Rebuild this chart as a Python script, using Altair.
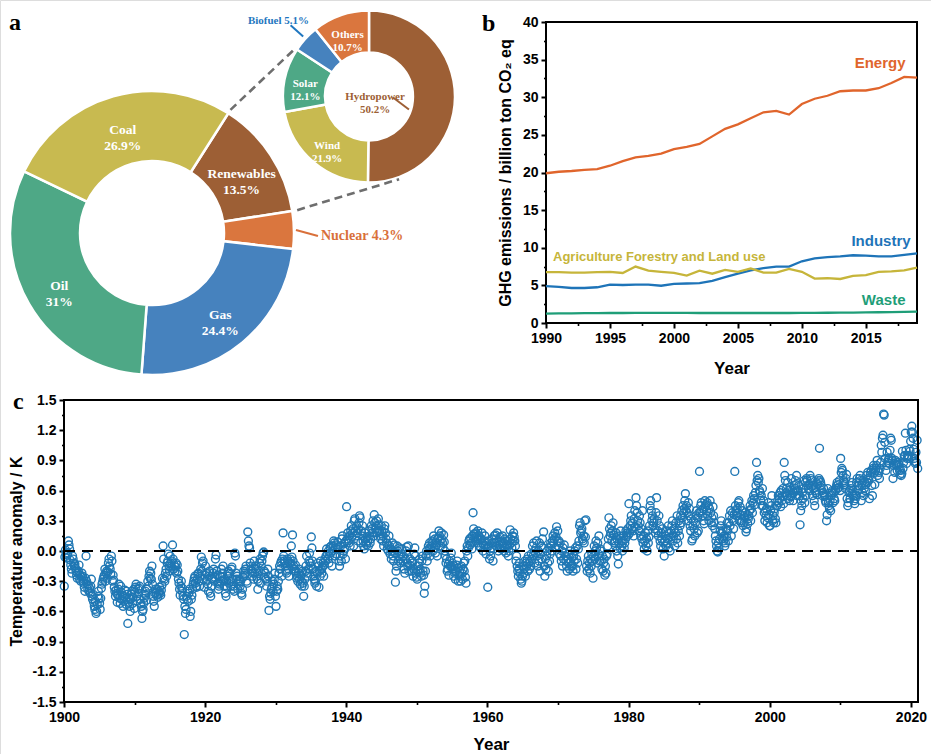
import numpy as np
import pandas as pd
import altair as alt

# ============================== DATA ==================================
# Panel a: energy mix and renewables breakdown (%)
ENERGY_CATS = ["Renewables", "Nuclear", "Gas", "Oil", "Coal"]
ENERGY_SHARE = [13.5, 4.3, 24.4, 31.0, 26.9]
ENERGY_PCT = ["13.5%", "4.3%", "24.4%", "31%", "26.9%"]

RENEW_CATS = ["Hydropower", "Wind", "Solar", "Biofuel", "Others"]
RENEW_SHARE = [50.2, 21.9, 12.1, 5.1, 10.7]
RENEW_PCT = ["50.2%", "21.9%", "12.1%", "5.1%", "10.7%"]

# Panel b: GHG emissions by sector (billion ton CO2 eq)
GHG_YEARS = list(range(1990, 2020))
GHG_ENERGY = [19.9, 20.1, 20.2, 20.35, 20.45, 20.9, 21.5, 22.0, 22.2, 22.5,
              23.1, 23.4, 23.8, 24.8, 25.8, 26.4, 27.2, 28.0, 28.2, 27.7,
              29.1, 29.8, 30.2, 30.8, 30.9, 30.9, 31.2, 31.9, 32.7, 32.6]
GHG_INDUSTRY = [4.9, 4.8, 4.65, 4.65, 4.75, 5.1, 5.05, 5.1, 5.1, 4.95,
                5.2, 5.25, 5.3, 5.6, 6.1, 6.55, 7.0, 7.3, 7.5, 7.5,
                8.2, 8.6, 8.75, 8.85, 9.0, 8.95, 8.85, 8.85, 9.05, 9.25]
GHG_AGRI = [6.75, 6.75, 6.7, 6.7, 6.75, 6.8, 6.65, 7.5, 6.95, 6.8,
            6.65, 6.3, 6.95, 6.55, 7.05, 6.8, 7.25, 6.7, 6.7, 7.2,
            6.8, 5.9, 5.95, 5.85, 6.25, 6.35, 6.8, 6.85, 7.0, 7.35]
GHG_WASTE = [1.25, 1.27, 1.28, 1.3, 1.32, 1.33, 1.33, 1.34, 1.35, 1.35,
             1.35, 1.34, 1.33, 1.33, 1.33, 1.33, 1.33, 1.33, 1.33, 1.33,
             1.34, 1.35, 1.36, 1.37, 1.39, 1.41, 1.43, 1.45, 1.48, 1.52]
GHG_SERIES = ["Energy", "Industry", "Agriculture Forestry and Land use", "Waste"]

# Panel c: monthly temperature anomaly (K x 100), Jan..Dec, 1900..2020
TEMP_FIRST_YEAR = 1900
TEMP_CENTI = [
    "-35 -6 1 -3 -7 -4 -2 10 6 2 -9 -14",
    "-18 -22 -5 -8 -12 -15 -13 -17 -20 -24 -27 -22",
    "-20 -14 -28 -24 -30 -26 -22 -25 -30 -32 -36 -40",
    "-27 -5 -30 -33 -38 -34 -40 -37 -42 -35 -28 -45",
    "-48 -43 -51 -55 -58 -50 -62 -60 -53 -45 -40 -47",
    "-52 -58 -47 -37 -33 -31 -28 -26 -24 -18 -30 -22",
    "-20 -27 -21 -12 -8 -15 -18 -23 -5 -10 -30 -24",
    "-29 -36 -40 -45 -39 -42 -51 -44 -38 -33 -47 -52",
    "-35 -41 -48 -44 -55 -50 -45 -39 -47 -53 -40 -43",
    "-72 -51 -47 -55 -60 -48 -43 -40 -52 -46 -38 -57",
    "-41 -36 -33 -45 -50 -38 -42 -37 -35 -48 -52 -55",
    "-67 -60 -58 -52 -47 -43 -40 -44 -49 -38 -30 -35",
    "-25 -20 -27 -22 -28 -15 -33 -45 -50 -55 -42 -38",
    "-41 -44 -38 -46 -43 -40 -36 -42 -44 -39 -34 -27",
    "5 -8 -28 -30 -22 -18 -25 -12 -10 -3 -15 -20",
    "-5 -12 -15 -10 6 -8 -18 -14 -20 -16 -12 -22",
    "-14 -20 -28 -32 -38 -44 -35 -30 -40 -37 -45 -48",
    "-83 -55 -62 -58 -45 -48 -40 -50 -42 -38 -65 -60",
    "-48 -44 -38 -33 -30 -27 -25 -32 -35 -36 -28 -23",
    "-22 -30 -35 -25 -18 -6 -20 -12 -10 -28 -36 -24",
    "-15 -22 -30 -28 -33 -40 -25 -20 -42 -45 -35 -27",
    "-28 -22 -18 -30 -26 -8 -4 -20 -24 -32 -38 -35",
    "-33 -25 -30 -18 -26 -22 -15 -30 -35 -28 -42 -45",
    "-30 -36 -25 -20 -32 -22 -30 -35 -18 -16 -28 -38",
    "-35 -40 -2 -5 -22 -28 -25 -38 -30 -33 -28 -35",
    "-30 -42 -44 -38 -26 -20 -24 -22 -18 -15 -30 -32",
    "19 10 5 3 -12 -18 -15 -20 -25 -22 -28 -10",
    "-22 -15 -18 -25 -28 -38 -30 -20 -12 -8 -32 -15",
    "-10 -5 -2 -1 -20 -26 -22 -28 -35 -30 -18 -25",
    "-59 -45 -48 -42 -38 -36 -30 -40 -33 -28 -22 -45",
    "-55 -40 -35 -38 -30 -22 -15 -18 -12 -10 -25 -8",
    "18 -5 -10 -12 -15 -20 -22 -8 -10 -18 -25 -12",
    "-8 -12 5 -6 16 -10 -15 -18 -20 -14 -22 -27",
    "-25 -30 -22 -18 -28 -33 -24 -30 -35 -20 -32 -45",
    "-35 -28 -20 -15 -5 -22 -25 -18 -10 -2 -12 -15",
    "14 3 -10 -18 -25 -28 -32 -30 -20 -35 -22 -12",
    "-15 -36 -20 -25 -10 -18 -22 -16 -12 -25 -14 -8",
    "-10 -5 2 -3 -8 0 -12 -5 4 -2 5 -15",
    "0 5 10 8 -5 3 6 -3 2 9 4 -10",
    "-15 -5 5 -10 12 15 -3 0 8 2 -8 10",
    "44 12 18 10 8 15 5 20 25 14 18 22",
    "5 30 32 20 15 25 18 10 22 28 35 33",
    "8 20 15 25 10 5 2 18 12 8 6 14",
    "10 5 20 15 8 12 25 22 18 30 15 36",
    "28 22 25 30 18 20 32 26 20 15 12 25",
    "20 10 15 5 22 25 18 12 8 2 6 0",
    "15 5 -3 2 -8 0 8 -5 -10 6 -2 -31",
    "-20 -15 5 0 -10 -5 3 -8 -12 -3 2 -6",
    "-10 -5 -18 -22 -8 0 4 -12 -15 5 -20 -14",
    "-8 -15 -20 -10 -12 -25 -18 -3 3 -5 -22 -26",
    "-28 -20 -15 -12 -8 -18 -22 -25 -10 -5 -20 -24",
    "-42 -35 -20 -5 0 -10 -3 5 2 8 -5 3",
    "5 10 8 0 15 3 12 -2 8 6 -5 12",
    "13 20 15 10 5 18 12 8 3 16 9 0",
    "-5 -12 -8 -20 -18 -13 -24 -10 -15 -7 -2 -16",
    "-12 -18 -25 -15 -22 -28 -20 -14 -10 -17 -30 -24",
    "-20 -25 -30 -15 -22 -28 -18 -12 -20 -10 -26 -32",
    "0 5 -5 3 10 12 6 13 8 2 15 38",
    "22 17 13 10 18 14 12 20 8 15 5 11",
    "3 12 18 8 0 6 10 15 5 -3 9 4",
    "-36 10 5 -8 0 -5 3 12 8 -10 2 15",
    "8 16 12 5 18 10 0 6 3 14 9 2",
    "10 15 5 8 0 12 3 -2 6 10 4 -5",
    "0 6 21 12 8 3 15 10 18 14 10 5",
    "-10 -5 -15 -20 -25 -18 -12 -22 -28 -32 -30 -25",
    "-15 -22 -18 -10 -25 -12 -15 -8 -20 -5 -12 -18",
    "-10 -15 -3 -8 5 -5 8 0 -12 -2 3 10",
    "-5 -15 0 -10 8 -20 -3 5 -8 12 3 19",
    "-15 -25 -8 -18 -5 0 -12 -20 3 -10 -3 8",
    "5 0 10 15 8 12 18 3 14 24 10 20",
    "5 10 -3 8 -5 -10 0 -15 3 -8 6 -2",
    "-5 -10 -15 -20 -8 -12 -3 -18 0 -10 -15 -6",
    "-15 -20 -5 -10 0 3 -18 -8 5 -12 2 10",
    "25 28 18 20 22 12 10 15 8 30 14 31",
    "-15 -20 -10 -5 -18 -12 -22 -8 -15 -3 -10 -27",
    "-5 5 -8 0 10 3 -12 8 -3 15 -10 2",
    "0 -10 -18 -5 -20 -12 -8 -24 -15 -22 -5 -3",
    "5 12 33 22 15 18 25 10 20 28 16 8",
    "10 5 18 0 12 -5 -13 8 15 3 20 10",
    "5 0 10 15 3 8 12 20 14 18 22 16",
    "47 18 25 30 35 22 28 20 15 32 40 24",
    "53 45 38 30 25 20 35 28 15 22 12 40",
    "8 15 2 10 18 5 12 0 20 8 14 25",
    "45 50 40 30 35 25 28 32 22 18 38 53",
    "30 20 15 35 25 10 5 18 12 22 2 8",
    "-5 10 15 5 20 8 12 25 3 18 0 14",
    "20 25 30 10 15 22 5 18 28 12 35 8",
    "20 30 15 25 35 28 40 33 45 38 42 50",
    "57 40 45 38 30 48 35 42 25 20 32 10",
    "12 25 30 22 15 28 35 40 18 33 20 38",
    "79 38 45 48 40 35 42 30 27 50 44 46",
    "40 48 35 45 30 42 50 38 28 33 25 44",
    "35 28 22 15 10 5 0 -1 8 3 12 20",
    "25 30 18 12 20 10 15 5 8 22 14 28",
    "20 10 28 35 25 40 15 32 38 30 22 36",
    "79 45 40 35 42 38 48 50 30 44 36 28",
    "30 40 25 35 28 33 38 19 22 36 27 32",
    "35 40 45 30 42 50 38 48 55 52 46 58",
    "65 88 70 75 68 72 60 58 50 55 45 62",
    "45 50 38 30 40 35 42 28 33 48 36 25",
    "25 40 45 55 30 35 28 38 42 32 28 45",
    "45 50 55 48 52 58 44 60 50 54 62 47",
    "88 75 70 58 62 55 68 52 60 50 63 54",
    "72 55 60 50 58 65 62 70 66 75 55 60",
    "60 65 55 26 40 50 45 58 52 62 70 48",
    "68 55 72 70 65 62 66 60 75 72 70 64",
    "55 65 62 50 45 60 58 68 56 66 70 72",
    "102 70 68 65 60 55 58 62 56 54 50 48",
    "30 36 62 48 45 42 50 40 55 58 60 48",
    "58 52 50 60 62 65 68 62 66 63 70 60",
    "92 78 82 80 75 70 68 66 62 72 76 52",
    "45 48 58 60 52 62 65 68 56 60 55 50",
    "47 52 55 68 72 65 60 62 72 75 70 50",
    "65 58 70 55 62 68 60 66 75 68 78 72",
    "70 52 75 78 80 65 55 82 85 78 66 80",
    "82 85 90 75 80 78 72 82 88 105 98 112",
    "115 136 135 108 92 80 85 98 88 90 92 87",
    "100 112 110 92 90 72 85 87 78 90 86 88",
    "80 85 88 86 80 76 80 75 77 99 82 88",
    "94 95 117 100 87 92 95 94 92 101 99 109",
    "118 124 118 112 101 92 89 87 98 88 110 82",
]

# ============================== STYLE / LAYOUT ===========================
W, H = 931, 754
SANS = "Liberation Sans"
SERIF = "Liberation Serif"

PIE_COLORS = ["#9D5F35", "#DA763E", "#4682BE", "#4EA886", "#C8BA50"]      # energy
REN_COLORS = ["#9D5F35", "#C8BA50", "#4EA886", "#4682BE", "#DA763E"]      # renewables
GHG_COLORS = ["#E0652C", "#1E74B8", "#C6B53A", "#1F9E78"]
PT_BLUE = "#1f77b4"

BIG_C, BIG_R0, BIG_R1, BIG_START = (152.0, 233.0), 72, 142, 32.5
SM_C, SM_R0, SM_R1, SM_START = (369.0, 96.5), 44, 86, 0.0

# panel b plot rectangle
B_L, B_R, B_T, B_B = 546, 917, 22, 323
# panel c plot rectangle
C_L, C_R, C_T, C_B = 64, 918, 400, 702


def polar(c, r, deg):
    a = np.deg2rad(deg)
    return c[0] + r * np.sin(a), c[1] - r * np.cos(a)


def angles(shares, start):
    s = np.array(shares, dtype=float)
    tot = s.sum()
    before = np.concatenate([[0], np.cumsum(s)[:-1]])
    a0 = start + 360 * before / tot
    a1 = start + 360 * (before + s) / tot
    return a0, a1, (a0 + a1) / 2


# ============================== PANEL A ==================================
big = pd.DataFrame({"cat": ENERGY_CATS, "share": ENERGY_SHARE, "idx": range(5)})
big["inner"] = [c + "\n" + p if c != "Nuclear" else "" for c, p in zip(ENERGY_CATS, ENERGY_PCT)]

sm = pd.DataFrame({"cat": RENEW_CATS, "share": RENEW_SHARE, "idx": range(5)})
sm["inner"] = [c + "\n" + p if c in ("Wind", "Solar", "Others") else ""
               for c, p in zip(RENEW_CATS, RENEW_PCT)]

th_big = alt.Theta("share:Q", stack=True,
                   scale=alt.Scale(range=[np.deg2rad(BIG_START), np.deg2rad(BIG_START) + 2 * np.pi]))
th_sm = alt.Theta("share:Q", stack=True,
                  scale=alt.Scale(range=[np.deg2rad(SM_START), np.deg2rad(SM_START) + 2 * np.pi]))

big_arcs = alt.Chart(big).mark_arc(radius=BIG_R1, radius2=BIG_R0, stroke="white", strokeWidth=2.5).encode(
    theta=th_big, order=alt.Order("idx:Q"),
    color=alt.Color("cat:N", scale=alt.Scale(domain=ENERGY_CATS, range=PIE_COLORS), legend=None),
    x=alt.value(BIG_C[0]), y=alt.value(BIG_C[1]))
big_txt = alt.Chart(big).mark_text(radius=(BIG_R0 + BIG_R1) / 2, font=SERIF, fontWeight="bold",
                                   fontSize=13.5, color="white", lineBreak="\n", lineHeight=16).encode(
    theta=th_big, order=alt.Order("idx:Q"), detail="cat:N", text="inner:N",
    x=alt.value(BIG_C[0]), y=alt.value(BIG_C[1]))
L_big = alt.layer(big_arcs, big_txt)

sm_arcs = alt.Chart(sm).mark_arc(radius=SM_R1, radius2=SM_R0, stroke="white", strokeWidth=2.5).encode(
    theta=th_sm, order=alt.Order("idx:Q"),
    color=alt.Color("cat:N", scale=alt.Scale(domain=RENEW_CATS, range=REN_COLORS), legend=None),
    x=alt.value(SM_C[0]), y=alt.value(SM_C[1]))
sm_txt = alt.Chart(sm).mark_text(radius=(SM_R0 + SM_R1) / 2, font=SERIF, fontWeight="bold",
                                 fontSize=11, color="white", lineBreak="\n", lineHeight=13).encode(
    theta=th_sm, order=alt.Order("idx:Q"), detail="cat:N", text="inner:N",
    x=alt.value(SM_C[0]), y=alt.value(SM_C[1]))
L_sm = alt.layer(sm_arcs, sm_txt)

# geometry derived from the shares (connectors, leader lines, outside labels)
b0, b1, bm = angles(ENERGY_SHARE, BIG_START)
s0, s1, smid = angles(RENEW_SHARE, SM_START)
i_ren, i_nuc = ENERGY_CATS.index("Renewables"), ENERGY_CATS.index("Nuclear")
i_bio, i_hyd = RENEW_CATS.index("Biofuel"), RENEW_CATS.index("Hydropower")

c1a = polar(BIG_C, BIG_R1 + 4, b0[i_ren]); c1b = polar(SM_C, SM_R1 + 2, s0[i_bio])
c2a = polar(BIG_C, BIG_R1 + 5, b1[i_ren]); c2b = polar(SM_C, SM_R1 + 2, 160)
conn = pd.DataFrame({"x": [c1a[0], c2a[0]], "y": [c1a[1], c2a[1]],
                     "x2": [c1b[0], c2b[0]], "y2": [c1b[1], c2b[1]]})

n0 = polar(BIG_C, BIG_R1 + 2, bm[i_nuc]); n1 = (n0[0] + 22, n0[1] + 6)
f0 = polar(SM_C, SM_R1 + 3, smid[i_bio]); f1 = polar(SM_C, SM_R1 + 20, smid[i_bio])
h0 = (SM_C[0] + 24, SM_C[1] + 1); h1 = polar(SM_C, SM_R0 - 2, 108)
lead = pd.DataFrame({"x": [n0[0], f0[0], h0[0]], "y": [n0[1], f0[1], h0[1]],
                     "x2": [n1[0], f1[0], h1[0]], "y2": [n1[1], f1[1], h1[1]],
                     "col": ["#D9703A", "#1F77C0", "#9D5F35"]})
fb = polar(SM_C, SM_R1 + 31, smid[i_bio])
outer = pd.DataFrame({
    "txt": ["Nuclear " + ENERGY_PCT[i_nuc], "Biofuel " + RENEW_PCT[i_bio], "Hydropower\n" + RENEW_PCT[i_hyd]],
    "x": [n1[0] + 3, fb[0] - 4, SM_C[0] + 6], "y": [n1[1], fb[1] + 3, SM_C[1]],
    "col": ["#D9703A", "#1F77C0", "#9D5F35"]})

px = dict(x=alt.X("x:Q", scale=None, axis=None), y=alt.Y("y:Q", scale=None, axis=None))
conn_ch = alt.Chart(conn).mark_rule(color="#6E6E6E", strokeWidth=2.6, strokeDash=[8, 5]).encode(
    x2="x2:Q", y2="y2:Q", **px)
lead_ch = alt.Chart(lead).mark_rule(strokeWidth=2).encode(
    x2="x2:Q", y2="y2:Q", color=alt.Color("col:N", scale=None), **px)
txt_nuc = alt.Chart(outer.iloc[[0]]).mark_text(font=SERIF, fontWeight="bold", fontSize=14, align="left",
                                               baseline="middle").encode(
    text="txt:N", color=alt.Color("col:N", scale=None), **px)
txt_small = alt.Chart(outer.iloc[[1, 2]]).mark_text(font=SERIF, fontWeight="bold", fontSize=11, align="center",
                                                    baseline="middle", lineBreak="\n", lineHeight=13).encode(
    text="txt:N", color=alt.Color("col:N", scale=None), **px)

letters = pd.DataFrame({"t": ["a", "b", "c"], "x": [9, 482, 13], "y": [30, 31, 409]})
let_ch = alt.Chart(letters).mark_text(font=SERIF, fontWeight="bold", fontSize=24, align="left",
                                      baseline="alphabetic", color="black").encode(text="t:N", **px)
L_pix = alt.layer(conn_ch, lead_ch, txt_nuc, txt_small, let_ch)


# ============================== AXIS HELPERS =============================
def ax(**kw):
    base = dict(labelFont=SANS, labelFontWeight="bold", labelFontSize=14, labelColor="black",
                titleFont=SANS, titleFontWeight="bold", titleColor="black",
                tickColor="black", tickWidth=2, domain=False, grid=False,
                labelFlush=False, labelOverlap=False)
    base.update(kw)
    return alt.Axis(**base)


def minor_ax(orient, offset, values):
    return alt.Axis(orient=orient, offset=offset, values=values, labels=False, domain=False, grid=False,
                    tickColor="black", tickWidth=1.6, tickSize=2.5, title=None)


# ============================== PANEL B ==================================
ghg = pd.DataFrame({
    "year": GHG_YEARS * 4,
    "value": GHG_ENERGY + GHG_INDUSTRY + GHG_AGRI + GHG_WASTE,
    "sector": sum([[s] * len(GHG_YEARS) for s in GHG_SERIES], []),
})
bxs = alt.Scale(domain=[1990, 2019], range=[B_L, B_R], nice=False, zero=False)
bys = alt.Scale(domain=[0, 40], range=[B_B, B_T], nice=False)
bx_ax = ax(orient="bottom", offset=-(H - B_B), values=list(range(1990, 2016, 5)), format="d",
           tickSize=5, labelPadding=3, title="Year", titleFontSize=17, titlePadding=15)
by_ax = ax(orient="left", offset=-B_L, values=list(range(0, 41, 5)), tickSize=5, labelPadding=3,
           title="GHG emissions / billion ton CO\u2082 eq", titleFontSize=16, titlePadding=9)
col_b = alt.Color("sector:N", scale=alt.Scale(domain=GHG_SERIES, range=GHG_COLORS), legend=None)

b_lines = alt.Chart(ghg).mark_line(strokeWidth=2.3).encode(
    x=alt.X("year:Q", scale=bxs, axis=bx_ax), y=alt.Y("value:Q", scale=bys, axis=by_ax), color=col_b)

# sector labels anchored in data units
b_lab = pd.DataFrame({"sector": GHG_SERIES,
                      "year": [2018.1, 2018.5, 1990.55, 2018.1],
                      "value": [34.55, 10.9, 8.8, 3.05]})
b_lab_r = alt.Chart(b_lab[b_lab.sector != GHG_SERIES[2]]).mark_text(
    font=SANS, fontWeight="bold", fontSize=15, align="right", baseline="middle").encode(
    x=alt.X("year:Q", scale=bxs, axis=bx_ax), y=alt.Y("value:Q", scale=bys, axis=by_ax),
    text="sector:N", color=col_b)
b_lab_l = alt.Chart(b_lab[b_lab.sector == GHG_SERIES[2]]).mark_text(
    font=SANS, fontWeight="bold", fontSize=13, align="left", baseline="middle").encode(
    x=alt.X("year:Q", scale=bxs, axis=bx_ax), y=alt.Y("value:Q", scale=bys, axis=by_ax),
    text="sector:N", color=col_b)
b_frame_df = pd.DataFrame({"year": [1990], "year2": [2019], "value": [0], "value2": [40]})
b_frame = alt.Chart(b_frame_df).mark_rect(fillOpacity=0, stroke="black", strokeWidth=2).encode(
    x=alt.X("year:Q", scale=bxs, axis=bx_ax), x2="year2:Q",
    y=alt.Y("value:Q", scale=bys, axis=by_ax), y2="value2:Q")
L_b = alt.layer(b_frame, b_lines, b_lab_r, b_lab_l)

L_bminor = alt.Chart(b_frame_df).mark_point(opacity=0).encode(
    x=alt.X("year:Q", scale=bxs, axis=minor_ax("bottom", -(H - B_B), [1992.5 + 5 * k for k in range(6)])),
    y=alt.Y("value:Q", scale=bys, axis=minor_ax("left", -B_L, [2.5 + 5 * k for k in range(8)])))

# ============================== PANEL C ==================================
rows = []
for i, line in enumerate(TEMP_CENTI):
    vals = [int(v) for v in line.split()]
    assert len(vals) == 12, (TEMP_FIRST_YEAR + i, len(vals))
    for m, v in enumerate(vals):
        rows.append((TEMP_FIRST_YEAR + i + (m + 0.5) / 12, v / 100))
temp = pd.DataFrame(rows, columns=["t", "anom"])

cxs = alt.Scale(domain=[1900, 2021], range=[C_L, C_R], nice=False, zero=False)
cys = alt.Scale(domain=[-1.5, 1.5], range=[C_B, C_T], nice=False, zero=False)
cx_ax = ax(orient="bottom", offset=-(H - C_B), values=list(range(1900, 2021, 20)), format="d",
           tickSize=5, labelPadding=3, title="Year", titleFontSize=17, titlePadding=12)
cy_ax = ax(orient="left", offset=-C_L, values=[round(-1.5 + 0.3 * k, 1) for k in range(11)],
           labelExpr="replace(format(datum.value, '.1f'), '\u2212', '-')",
           tickSize=5, labelPadding=3, title="Temperature anomaly / K", titleFontSize=16, titlePadding=7)

c_frame_df = pd.DataFrame({"t": [1900], "t2": [2021], "anom": [-1.5], "anom2": [1.5]})
c_frame = alt.Chart(c_frame_df).mark_rect(fillOpacity=0, stroke="black", strokeWidth=2).encode(
    x=alt.X("t:Q", scale=cxs, axis=cx_ax), x2="t2:Q",
    y=alt.Y("anom:Q", scale=cys, axis=cy_ax), y2="anom2:Q")
c_pts = alt.Chart(temp).mark_point(shape="circle", filled=False, size=62, strokeWidth=1.4,
                                   color=PT_BLUE, opacity=1).encode(
    x=alt.X("t:Q", scale=cxs, axis=cx_ax), y=alt.Y("anom:Q", scale=cys, axis=cy_ax))
zero_df = pd.DataFrame({"t": [1900], "t2": [2021], "anom": [0.0]})
c_zero = alt.Chart(zero_df).mark_rule(color="black", strokeWidth=2.2, strokeDash=[11, 7]).encode(
    x=alt.X("t:Q", scale=cxs, axis=cx_ax), x2="t2:Q", y=alt.Y("anom:Q", scale=cys, axis=cy_ax))
L_c = alt.layer(c_pts, c_zero, c_frame)

L_cminor = alt.Chart(c_frame_df).mark_point(opacity=0).encode(
    x=alt.X("t:Q", scale=cxs, axis=minor_ax("bottom", -(H - C_B), [1910 + 20 * k for k in range(6)])),
    y=alt.Y("anom:Q", scale=cys, axis=minor_ax("left", -C_L, [round(-1.35 + 0.3 * k, 2) for k in range(10)])))

# ============================== COMPOSE ==================================
chart = alt.layer(L_big, L_sm, L_pix, L_b, L_bminor, L_c, L_cminor).resolve_scale(
    x="independent", y="independent", theta="independent", color="independent"
).resolve_axis(x="independent", y="independent").properties(
    width=W, height=H, autosize=alt.AutoSizeParams(type="none"), padding=0
).configure_view(strokeWidth=0).configure(background="white")

chart.save("out.html", embed_options={"renderer": "svg", "actions": False})
